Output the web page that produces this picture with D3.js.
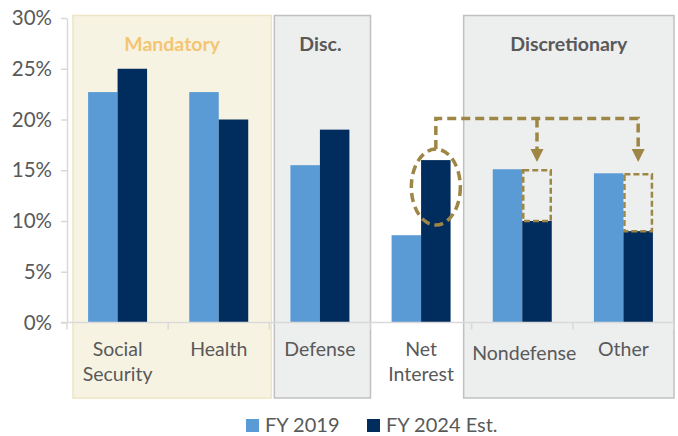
<!DOCTYPE html>
<html><head><meta charset="utf-8">
<script src="https://cdn.jsdelivr.net/npm/d3@7"></script>
<style>
html,body{margin:0;padding:0;background:#fff;}
svg{display:block;}
text{font-family:"Lato","Noto Sans",sans-serif;}
</style></head>
<body>
<svg id="chart" width="678" height="436"></svg>
<script>
const categories = ["Social Security", "Health", "Defense", "Net Interest", "Nondefense", "Other"];
const categoryLines = [["Social","Security"],["Health"],["Defense"],["Net","Interest"],["Nondefense"],["Other"]];
const seriesNames = ["FY 2019", "FY 2024 Est."];
const fy2019 = [22.7, 22.7, 15.5, 8.6, 15.1, 14.7];
const fy2024 = [25.0, 20.0, 19.0, 16.0, 10.0, 9.0];
const yTicks = [0, 5, 10, 15, 20, 25, 30];
const groupNames = ["Mandatory", "Disc.", "Discretionary"];
const groupMembers = [["Social Security","Health"],["Defense"],["Nondefense","Other"]];
const colors = ["#5b9bd5", "#002d5d"];

const svg = d3.select("#chart");
const gold = "#9e8645";
const grey = "#595959";

const x = d3.scaleBand().domain(categories).range([67, 674]);
const x1 = d3.scaleBand().domain(seriesNames).range([0, x.bandwidth()]).paddingOuter(0.715);
const y = d3.scaleLinear().domain([0, 30]).range([322.5, 18]);

// group background boxes
const groupStyle = [
  {fill:"#f7f3e3", stroke:"#efe4c4", text:"#f4c573", l:6, r:2},
  {fill:"#edeeee", stroke:"#c0c0c0", text:grey, l:5, r:0},
  {fill:"#edeeee", stroke:"#c0c0c0", text:grey, l:-8, r:0}
];
groupNames.forEach((g,i)=>{
  const m = groupMembers[i];
  const x0 = x(m[0]) + groupStyle[i].l;
  const xEnd = x(m[m.length-1]) + x.bandwidth() + groupStyle[i].r;
  svg.append("rect").attr("x", x0).attr("y", 15.5).attr("width", xEnd - x0).attr("height", 382.5)
    .attr("fill", groupStyle[i].fill).attr("stroke", groupStyle[i].stroke).attr("stroke-width", 1.5);
  svg.append("text").attr("x", (x0+xEnd)/2 + (i===1?-2:0)).attr("y", 51).attr("text-anchor","middle")
    .attr("font-size", 19.5).attr("font-weight", 700).attr("fill", groupStyle[i].text).text(g);
});

// bars
const data = categories.map((c,i)=>({c, vals:[fy2019[i], fy2024[i]]}));
const gBars = svg.append("g");
data.forEach(d=>{
  d.vals.forEach((v,j)=>{
    gBars.append("rect").attr("x", x(d.c) + x1(seriesNames[j])).attr("y", y(v))
      .attr("width", x1.bandwidth()).attr("height", y(0) - y(v)).attr("fill", colors[j]);
  });
});

// axes
const axisColor = "#d9d9d9";
const yAxis = svg.append("g").attr("transform","translate(67,0)")
  .call(d3.axisLeft(y).tickValues(yTicks).tickFormat(d=>d+"%").tickSizeInner(6).tickSizeOuter(0));
yAxis.select(".domain").attr("stroke", axisColor).attr("stroke-width", 1.5);
yAxis.selectAll(".tick line").attr("stroke", axisColor).attr("stroke-width", 1.5);
yAxis.selectAll(".tick text").attr("font-size", 20.5).attr("fill", grey).attr("x", -15)
  .attr("font-family", "Lato, 'Noto Sans', sans-serif");

const xAxis = svg.append("g").attr("transform",`translate(0,${y(0)})`)
  .call(d3.axisBottom(x).tickValues([]).tickSizeOuter(0));
xAxis.select(".domain").attr("stroke", axisColor).attr("stroke-width", 1.5).attr("d", `M61,0H674`);
// category separators
const seps = categories.map(c=>x(c)).concat([x(categories[categories.length-1]) + x.bandwidth()]);
seps.forEach(s=>{
  xAxis.append("line").attr("x1",s).attr("x2",s).attr("y1",0).attr("y2",7).attr("stroke",axisColor).attr("stroke-width",1.5);
});
// category labels
categories.forEach((c,i)=>{
  const cx = x(c) + x.bandwidth()/2 + (i===4?2:0);
  const t = svg.append("text").attr("x", cx).attr("y", i===4?360:356)
    .attr("text-anchor","middle").attr("font-size", 19.5).attr("fill", grey);
  categoryLines[i].forEach((ln,k)=>{
    t.append("tspan").attr("x", cx).attr("dy", k===0?0:25).text(ln);
  });
});

// annotation: ellipse around net interest 2024 bar
const niX = x("Net Interest") + x1(seriesNames[1]) + x1.bandwidth()/2;
const niV = fy2024[categories.indexOf("Net Interest")];
const dashAttrs = sel => sel.attr("fill","none").attr("stroke", gold).attr("stroke-width", 3.5).attr("stroke-dasharray","9,5");
svg.append("ellipse").attr("cx", niX).attr("cy", y(niV) + 27).attr("rx", 24.5).attr("ry", 38).call(dashAttrs);

// dashed boxes showing 2019 levels on 2024 bars
["Nondefense","Other"].forEach(c=>{
  const i = categories.indexOf(c);
  const bx = x(c) + x1(seriesNames[1]);
  svg.append("rect").attr("x", bx + 1).attr("y", y(fy2019[i]) + 1).attr("width", x1.bandwidth() - 2)
    .attr("height", y(fy2024[i]) - y(fy2019[i]) - 1).attr("fill","none").attr("stroke", gold)
    .attr("stroke-width", 2.5).attr("stroke-dasharray","6,3");
});

// connector with arrows
const topY = y(20) - 1;
const ndX = x("Nondefense") + x1(seriesNames[1]) + x1.bandwidth()/2;
const otX = x("Other") + x1(seriesNames[1]) + x1.bandwidth()/2;
const tipY = 162;
svg.append("path").attr("d", `M${niX},${y(niV) - 11}V${topY}H${otX}V${tipY - 12}`).call(dashAttrs);
svg.append("path").attr("d", `M${ndX},${topY}V${tipY - 12}`).call(dashAttrs);
[ndX, otX].forEach(ax=>{
  svg.append("path").attr("d", `M${ax-6.5},${tipY-13}L${ax+6.5},${tipY-13}L${ax},${tipY}Z`).attr("fill", gold);
});

// legend
const legend = svg.append("g");
const legX = [246, 367];
seriesNames.forEach((s,j)=>{
  legend.append("rect").attr("x", legX[j]).attr("y", 419).attr("width", 13).attr("height", 13).attr("fill", colors[j]);
  legend.append("text").attr("x", legX[j] + 19).attr("y", 432).attr("font-size", 20).attr("fill", grey).text(s);
});
</script>
</body></html>
